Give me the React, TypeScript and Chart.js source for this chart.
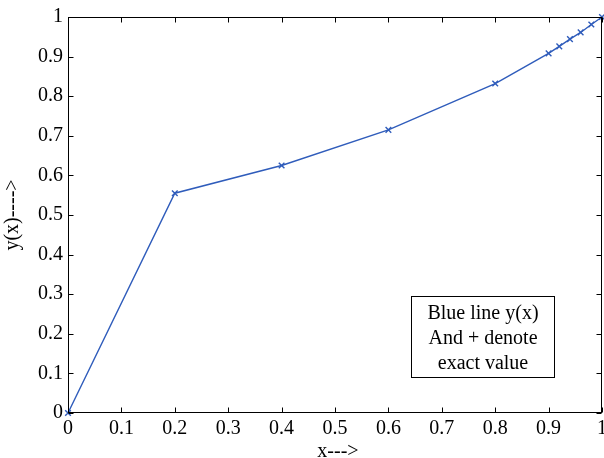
import React, { useEffect, useRef } from "react";
import { Chart, registerables } from "chart.js";

Chart.register(...registerables);

const xValues = [0, 0.2, 0.4, 0.6, 0.8, 0.9, 0.92, 0.94, 0.96, 0.98, 1];
const yValues = [0, 0.555, 0.625, 0.715, 0.832, 0.908, 0.926, 0.944, 0.961, 0.981, 1];
const xTitle = "x--->";
const yTitle = "y(x)---->";
const noteLines = ["Blue line y(x)", "And + denote", "exact value"];
// note box corners in data units (x0, x1, y0, y1)
const noteBoxX = [0.642, 0.91];
const noteBoxY = [0.091, 0.295];

const FONT = "Liberation Serif, Times New Roman, serif";
const LINE_COLOR = "#2f5cbb";

const framePlugin = {
  id: "frame",
  afterDraw(chart: any) {
    const { ctx, chartArea: a, scales } = chart;
    const xs = scales.x;
    const ys = scales.y;
    ctx.save();
    ctx.strokeStyle = "#000";
    ctx.lineWidth = 1;
    const L = Math.round(a.left) + 0.5;
    const R = Math.round(a.right) - 0.5;
    const T = Math.round(a.top) + 0.5;
    const B = Math.round(a.bottom) - 0.5;
    ctx.strokeRect(L, T, R - L, B - T);
    const tl = 5;
    ctx.beginPath();
    for (const t of xs.ticks) {
      const px = Math.round(xs.getPixelForValue(t.value)) + 0.5;
      ctx.moveTo(px, B);
      ctx.lineTo(px, B - tl);
      ctx.moveTo(px, T);
      ctx.lineTo(px, T + tl);
    }
    for (const t of ys.ticks) {
      const py = Math.round(ys.getPixelForValue(t.value)) + 0.5;
      ctx.moveTo(L, py);
      ctx.lineTo(L + tl, py);
      ctx.moveTo(R, py);
      ctx.lineTo(R - tl, py);
    }
    ctx.stroke();

    // axis titles
    ctx.fillStyle = "#000";
    ctx.font = `20px ${FONT}`;
    ctx.textAlign = "center";
    ctx.textBaseline = "alphabetic";
    ctx.fillText(xTitle, (a.left + a.right) / 2 + 3, 457);
    ctx.save();
    ctx.translate(18, (a.top + a.bottom) / 2);
    ctx.rotate(-Math.PI / 2);
    ctx.fillText(yTitle, 0, 0);
    ctx.restore();

    // note box
    const bx0 = Math.round(xs.getPixelForValue(noteBoxX[0])) + 0.5;
    const bx1 = Math.round(xs.getPixelForValue(noteBoxX[1])) + 0.5;
    const by0 = Math.round(ys.getPixelForValue(noteBoxY[1])) + 0.5;
    const by1 = Math.round(ys.getPixelForValue(noteBoxY[0])) + 0.5;
    ctx.fillStyle = "#fff";
    ctx.fillRect(bx0, by0, bx1 - bx0, by1 - by0);
    ctx.strokeRect(bx0, by0, bx1 - bx0, by1 - by0);
    ctx.fillStyle = "#000";
    const cx = (bx0 + bx1) / 2;
    noteLines.forEach((s, i) => {
      ctx.fillText(s, cx, by0 + 22 + i * 25);
    });
    ctx.restore();
  },
};

export default function App() {
  const ref = useRef<HTMLCanvasElement | null>(null);
  useEffect(() => {
    if (!ref.current) return;
    const chart = new Chart(ref.current, {
      type: "line",
      data: {
        datasets: [
          {
            data: xValues.map((x, i) => ({ x, y: yValues[i] })),
            borderColor: LINE_COLOR,
            backgroundColor: LINE_COLOR,
            borderWidth: 1.4,
            pointStyle: "crossRot",
            pointRadius: 4,
            pointBorderWidth: 1.4,
            pointBorderColor: LINE_COLOR,
            tension: 0,
            fill: false,
            clip: false as any,
          },
        ],
      },
      options: {
        responsive: false,
        animation: false,
        events: [],
        layout: { padding: { left: 0, right: 2, top: 17, bottom: 0 }, autoPadding: false },
        plugins: { legend: { display: false }, tooltip: { enabled: false }, title: { display: false } },
        scales: {
          x: {
            type: "linear",
            min: 0,
            max: 1,
            afterFit: (s: any) => {
              s.height = 45;
              s.paddingLeft = 0;
              s.paddingRight = 0;
            },
            ticks: {
              stepSize: 0.1,
              color: "#000",
              padding: 4,
              maxRotation: 0,
              font: { family: FONT, size: 20 },
              callback: (v: any) => String(Number(Number(v).toFixed(1))),
            },
            grid: { display: false, drawTicks: false },
            border: { display: false },
          },
          y: {
            type: "linear",
            min: 0,
            max: 1,
            afterFit: (s: any) => {
              s.width = 68;
              s.paddingTop = 0;
              s.paddingBottom = 0;
            },
            ticks: {
              stepSize: 0.1,
              color: "#000",
              padding: 5,
              font: { family: FONT, size: 20 },
              callback: (v: any) => String(Number(Number(v).toFixed(1))),
            },
            grid: { display: false, drawTicks: false },
            border: { display: false },
          },
        },
      },
      plugins: [framePlugin],
    } as any);
    return () => chart.destroy();
  }, []);
  return (
    <div style={{ position: "fixed", left: 0, top: 0, width: 604, height: 458, background: "#fff" }}>
      <canvas ref={ref} width={604} height={458} style={{ display: "block" }} />
    </div>
  );
}
